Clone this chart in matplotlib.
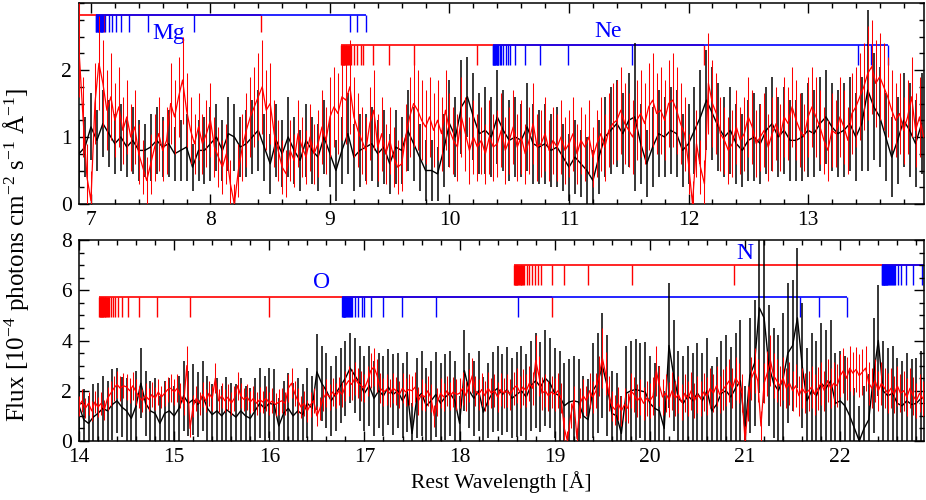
import matplotlib
matplotlib.use("Agg")
import matplotlib.pyplot as plt
import numpy as np
from matplotlib.ticker import MultipleLocator

plt.rcParams["font.family"] = ["Liberation Serif", "DejaVu Serif"]
plt.rcParams["mathtext.fontset"] = "custom"
plt.rcParams["mathtext.rm"] = "Liberation Serif"
plt.rcParams["mathtext.it"] = "Liberation Serif:italic"

#TOP PANEL DATA (7-14 A)
blackTopStart = 6.90
blackTopStep = 0.05
blackTopFlux = [
    0.75, 0.85, 1.15, 0.95, 1.2, 1.05, 0.9, 1.0, 0.85, 0.95,
    0.8, 0.8, 0.85, 0.95, 0.85, 0.9, 0.75, 0.8, 0.85, 0.55,
    0.8, 0.8, 0.9, 1.0, 0.8, 1.05, 1.0, 0.85, 0.9, 1.0,
    1.1, 0.85, 0.6, 0.95, 0.75, 1.0, 0.8, 0.65, 0.95, 0.8,
    0.7, 1.0, 0.75, 0.5, 0.8, 1.05, 0.7, 0.8, 0.85, 0.9,
    0.75, 0.85, 0.6, 0.85, 0.8, 1.1, 0.9, 0.7, 0.5, 0.5,
    0.45, 0.8, 1.2, 1.0, 1.45, 1.6, 1.3, 1.05, 1.1, 1.0,
    1.3, 1.1, 0.95, 1.0, 0.95, 1.15, 0.9, 0.85, 0.9, 0.8,
    0.85, 0.7, 0.55, 0.7, 0.6, 0.5, 0.35, 0.7, 1.0, 1.1,
    1.2, 1.05, 1.25, 1.3, 0.9, 0.6, 0.85, 1.05, 1.0, 1.1,
    1.05, 0.8, 0.9, 1.1, 1.3, 1.55, 1.35, 1.15, 1.0, 1.1,
    0.9, 0.8, 0.95, 1.0, 0.9, 1.1, 1.2, 1.0, 1.1, 0.95,
    0.95, 1.0, 1.1, 1.05, 1.2, 1.3, 1.15, 1.05, 1.1, 1.2,
    1.0, 1.2, 1.7, 1.45, 1.3, 1.0, 0.7, 0.95, 1.25, 1.1,
    0.9, 1.2]
blackTopErr = [
    0.5, 0.45, 0.5, 0.45, 0.5, 0.5, 0.45, 0.5, 0.45, 0.5,
    0.45, 0.4, 0.5, 0.5, 0.45, 0.5, 0.4, 0.45, 0.5, 0.35,
    0.45, 0.5, 0.55, 0.5, 0.45, 0.55, 0.5, 0.45, 0.5, 0.55,
    0.6, 0.5, 0.45, 0.55, 0.5, 0.6, 0.5, 0.45, 0.55, 0.5,
    0.5, 0.55, 0.5, 0.45, 0.5, 0.6, 0.5, 0.55, 0.5, 0.55,
    0.5, 0.55, 0.45, 0.55, 0.5, 0.6, 0.55, 0.5, 0.45, 0.45,
    0.4, 0.55, 0.65, 0.6, 0.7, 0.6, 0.65, 0.6, 0.65, 0.6,
    0.7, 0.6, 0.6, 0.6, 0.55, 0.65, 0.6, 0.55, 0.6, 0.55,
    0.6, 0.5, 0.5, 0.55, 0.5, 0.5, 0.45, 0.55, 0.6, 0.65,
    0.65, 0.6, 0.7, 1.1, 0.6, 0.5, 0.6, 0.65, 0.6, 0.65,
    0.65, 0.55, 0.6, 0.65, 0.7, 0.75, 0.7, 0.65, 0.6, 0.65,
    0.6, 0.55, 0.6, 0.65, 0.6, 0.65, 0.7, 0.6, 0.65, 0.6,
    0.6, 0.65, 0.7, 0.65, 0.7, 0.7, 0.65, 0.65, 0.7, 0.7,
    0.65, 0.7, 1.2, 0.8, 0.75, 0.65, 0.6, 0.65, 0.7, 0.7,
    0.65, 0.75]

redTopStart = 6.90
redTopStep = 1.0 / 30
redTopFlux = [
    2.3, 1.3, 0.4, 0.05, 1.5, 2.1, 1.8, 1.4, 1.6, 1.25, 1.45, 1.1, 1.3, 1.0, 1.15,
    0.75, 0.55, 0.35, 0.6, 0.85, 1.05, 0.8, 0.95, 1.5, 1.3, 1.6, 1.85, 1.4, 1.1, 0.9,
    1.15, 0.9, 1.05, 1.25, 0.85, 0.7, 0.55, 0.75, 0.3, 0.0, 0.5, 0.85, 1.1, 1.3, 1.45,
    1.6, 1.75, 1.4, 1.5, 1.05, 0.8, 0.55, 0.45, 0.8, 0.65, 1.05, 0.85, 0.7, 1.0, 0.75,
    0.9, 1.15, 0.95, 1.3, 1.45, 1.35, 1.6, 1.55, 1.75, 1.3, 1.1, 0.95, 0.8, 1.2, 1.4,
    0.85, 1.05, 0.75, 0.95, 0.7, 0.55, 0.6, 1.0, 1.3, 1.5, 1.4, 1.25, 1.15, 1.3, 1.1,
    1.25, 1.05, 1.4, 1.1, 0.95, 0.85, 1.3, 1.05, 0.8, 1.0, 0.85, 0.95, 0.75, 1.0, 0.85,
    0.9, 1.1, 0.8, 0.95, 1.15, 0.85, 1.0, 0.75, 0.95, 1.2, 0.85, 0.9, 1.05, 0.8, 0.95,
    0.85, 1.0, 0.8, 0.9, 1.05, 0.75, 0.95, 0.85, 1.0, 0.7, 0.9, 1.05, 0.85, 1.1, 1.2,
    1.25, 1.4, 1.2, 1.1, 1.0, 1.25, 1.35, 1.2, 1.45, 1.55, 1.35, 1.4, 1.25, 1.5, 1.55,
    1.4, 1.2, 1.05, 0.6, 0.0, 0.9, 0.55, 0.3, 1.8, 1.5, 1.35, 1.05, 0.95, 0.8, 0.9,
    1.15, 0.95, 1.05, 1.3, 1.15, 0.9, 1.0, 1.1, 0.85, 1.05, 1.2, 1.0, 1.3, 1.2, 1.45,
    1.25, 1.1, 1.0, 1.3, 1.45, 1.3, 1.15, 0.95, 0.8, 1.1, 1.05, 1.3, 1.15, 0.95, 1.35,
    1.45, 1.6, 1.75, 1.95, 2.05, 1.8, 1.9, 1.75, 1.6, 1.4, 1.25, 1.35, 1.1, 1.3, 1.6,
    1.1, 1.3, 1.0]
redTopErr = [
    0.7, 0.6, 0.5, 0.45, 0.6, 0.7, 0.65, 0.6, 0.65, 0.55, 0.6, 0.5, 0.55, 0.5, 0.55,
    0.45, 0.4, 0.35, 0.45, 0.5, 0.55, 0.45, 0.5, 0.6, 0.55, 0.6, 0.65, 0.55, 0.5, 0.45,
    0.5, 0.45, 0.5, 0.55, 0.45, 0.45, 0.4, 0.45, 0.35, 0.3, 0.4, 0.5, 0.55, 0.6, 0.6,
    0.65, 0.7, 0.6, 0.6, 0.5, 0.45, 0.4, 0.35, 0.45, 0.4, 0.5, 0.45, 0.4, 0.5, 0.45,
    0.5, 0.55, 0.5, 0.6, 0.6, 0.6, 0.65, 0.65, 0.7, 0.6, 0.55, 0.5, 0.5, 0.55, 0.6,
    0.5, 0.55, 0.45, 0.5, 0.45, 0.4, 0.4, 0.5, 0.6, 0.65, 0.6, 0.6, 0.55, 0.6, 0.55,
    0.6, 0.55, 0.6, 0.55, 0.5, 0.5, 0.6, 0.55, 0.5, 0.55, 0.5, 0.5, 0.45, 0.55, 0.5,
    0.5, 0.55, 0.5, 0.5, 0.55, 0.5, 0.55, 0.45, 0.5, 0.6, 0.5, 0.5, 0.55, 0.45, 0.5,
    0.5, 0.55, 0.5, 0.5, 0.55, 0.45, 0.5, 0.5, 0.55, 0.45, 0.5, 0.55, 0.5, 0.55, 0.6,
    0.6, 0.65, 0.6, 0.55, 0.55, 0.6, 0.65, 0.6, 0.65, 0.7, 0.6, 0.65, 0.6, 0.65, 0.7,
    0.65, 0.6, 0.55, 0.45, 0.35, 0.5, 0.4, 0.35, 0.75, 0.65, 0.6, 0.55, 0.5, 0.5, 0.5,
    0.55, 0.5, 0.55, 0.6, 0.55, 0.5, 0.5, 0.55, 0.5, 0.55, 0.55, 0.5, 0.6, 0.55, 0.6,
    0.6, 0.55, 0.5, 0.6, 0.6, 0.6, 0.55, 0.5, 0.45, 0.55, 0.5, 0.6, 0.55, 0.5, 0.6,
    0.6, 0.65, 0.65, 0.7, 0.7, 0.65, 0.65, 0.65, 0.6, 0.6, 0.55, 0.6, 0.5, 0.55, 0.6,
    0.55, 0.6, 0.5]

#BOTTOM PANEL DATA (14-23 A)
blackBotStart = 14.0
blackBotStep = 0.05
blackBotFlux = [
    1.4, 0.85, 0.7, 0.95, 1.1, 1.3, 1.2, 1.45, 1.6, 1.35,
    1.2, 0.9, 1.4, 2.3, 1.5, 1.2, 1.1, 0.7, 1.1, 1.2,
    1.0, 1.3, 1.8, 1.5, 1.65, 1.45, 1.8, 1.3, 1.05, 1.2,
    1.0, 1.25, 1.1, 0.95, 1.2, 1.0, 0.9, 1.2, 1.5, 1.3,
    1.5, 1.45, 0.6, 1.1, 1.3, 1.0, 1.2, 1.05, 1.5, 1.3,
    2.75, 2.3, 2.0, 1.6, 1.9, 2.2, 2.5, 2.9, 2.6, 2.3,
    1.9, 2.2, 1.7, 2.0, 1.8, 2.15, 1.85, 2.0, 1.6, 1.95,
    0.3, 1.7, 1.9, 1.4, 1.6, 1.85, 1.5, 1.75, 1.9, 1.6,
    0.7, 2.8, 2.0, 1.7, 2.0, 1.15, 1.6, 1.95, 2.1, 1.85,
    2.05, 1.7, 1.85, 2.0, 1.75, 2.2, 2.4, 2.15, 2.5, 2.3,
    1.9, 1.8, 1.4, 1.55, 1.6, 1.55, 1.0, 0.85, 2.0, 2.3,
    3.0, 2.2, 1.1, 1.0, 0.3, 1.9, 2.0, 2.05, 2.0, 1.95,
    1.5, 1.3, 1.2, 0.5, 3.8, 2.6, 1.7, 1.5, 1.8, 1.6,
    1.9, 1.6, 2.0, 1.2, 1.45, 1.9, 2.0, 1.75, 2.1, 2.4,
    0.4, 2.6, 3.1, 5.3, 4.9, 3.0, 2.3, 2.0, 2.5, 3.5,
    3.8, 4.9, 3.0, 1.6, 2.0, 1.8, 2.3, 2.1, 2.4, 1.5,
    1.6, 1.4, 1.0, 0.5, 0.0, 0.5, 0.85, 2.6, 4.0, 2.0,
    1.8, 1.9, 1.5, 1.4, 1.6, 1.45, 1.5, 1.7]
blackBotErr = [
    1.2, 1.2, 1.1, 1.3, 1.2, 1.3, 1.2, 1.4, 1.3, 1.2,
    1.3, 1.2, 1.4, 1.4, 1.3, 1.2, 1.4, 1.1, 1.3, 1.3,
    1.2, 1.3, 1.4, 1.3, 1.4, 1.3, 1.4, 1.3, 1.2, 1.3,
    1.2, 1.3, 1.2, 1.3, 1.3, 1.2, 1.2, 1.3, 1.4, 1.3,
    1.4, 1.4, 1.1, 1.3, 1.4, 1.3, 1.3, 1.2, 1.4, 1.3,
    1.5, 1.5, 1.5, 1.4, 1.5, 1.5, 1.5, 1.4, 1.5, 1.5,
    1.5, 1.6, 1.5, 1.5, 1.6, 1.5, 1.6, 1.5, 1.5, 1.6,
    1.2, 1.6, 1.7, 1.5, 1.6, 1.7, 1.6, 1.7, 1.7, 1.6,
    1.1, 1.6, 1.5, 1.5, 1.6, 1.4, 1.5, 1.6, 1.7, 1.6,
    1.7, 1.6, 1.7, 1.8, 1.7, 1.8, 1.9, 1.8, 1.9, 1.8,
    1.8, 1.8, 1.7, 1.7, 1.8, 1.7, 1.6, 1.6, 1.9, 2.0,
    2.1, 2.0, 1.7, 1.7, 1.5, 1.9, 2.0, 2.0, 1.9, 2.0,
    1.9, 1.8, 1.8, 1.5, 2.5, 2.2, 1.9, 1.9, 2.0, 1.9,
    2.0, 1.9, 2.1, 1.8, 1.9, 2.1, 2.2, 2.0, 2.2, 2.4,
    1.8, 2.3, 2.5, 3.4, 3.4, 2.4, 2.2, 2.2, 2.6, 2.8,
    2.6, 2.8, 2.5, 2.1, 2.3, 2.2, 2.4, 2.3, 2.4, 2.0,
    2.0, 2.0, 1.9, 1.6, 1.4, 1.7, 1.8, 2.3, 2.2, 2.0,
    1.9, 1.9, 1.8, 1.8, 1.9, 1.8, 1.8, 1.9]

redBotStart = 14.0
redBotStep = 1.0 / 30
redBotFlux = [
    1.4, 1.6, 1.3, 1.5, 1.2, 1.55, 1.35, 1.5, 1.25, 1.7, 1.9, 2.1, 2.25, 2.1, 2.2,
    2.15, 2.0, 2.2, 1.95, 1.75, 1.6, 1.8, 1.65, 1.85, 1.7, 1.95, 1.75, 1.9, 2.05, 2.1,
    1.95, 2.1, 1.8, 1.5, 3.0, 0.5, 1.4, 1.7, 1.5, 1.85, 1.6, 1.9, 1.7, 2.5, 1.6,
    1.8, 1.6, 1.75, 1.5, 1.7, 2.2, 1.8, 1.65, 1.75, 1.55, 1.7, 1.5, 1.65, 1.55, 1.7,
    1.5, 1.6, 1.45, 1.55, 1.6, 1.5, 2.1, 2.3, 1.9, 1.6, 1.35, 1.5, 1.2, 1.45, 1.6,
    1.0, 1.3, 1.7, 1.9, 1.75, 1.95, 1.8, 2.0, 1.85, 2.2, 2.4, 2.25, 2.5, 2.3, 2.2,
    2.1, 2.4, 2.8, 2.95, 2.6, 2.1, 1.95, 2.05, 1.9, 2.1, 2.0, 1.85, 2.1, 1.95, 2.05,
    2.0, 2.15, 1.6, 1.85, 1.75, 2.0, 1.7, 1.0, 1.55, 1.9, 1.75, 2.0, 1.8, 1.95, 1.85,
    1.9, 2.1, 1.8, 2.2, 2.6, 2.0, 1.85, 2.05, 1.8, 2.1, 1.9, 2.0, 1.75, 2.05, 1.9,
    2.0, 1.85, 2.1, 2.2, 1.95, 2.15, 2.0, 2.3, 2.1, 3.2, 2.6, 1.9, 2.0, 1.8, 1.95,
    1.85, 2.0, 1.7, 0.5, 0.0, 1.0, 1.6, 0.1, 1.5, 1.8, 1.6, 2.0, 1.75, 2.0, 2.6,
    3.3, 2.7, 1.9, 1.4, 1.25, 1.5, 1.2, 1.45, 1.3, 2.0, 1.85, 1.6, 1.75, 1.5, 1.7,
    1.6, 1.8, 2.8, 2.2, 1.75, 1.9, 1.65, 2.0, 1.7, 1.85, 1.55, 1.9, 1.7, 2.0, 1.6,
    1.85, 1.7, 1.95, 1.8, 2.1, 1.9, 2.2, 1.85, 2.05, 2.2, 2.4, 2.1, 2.5, 2.3, 1.9,
    0.0, 1.5, 2.5, 2.8, 2.4, 0.6, 2.3, 2.7, 3.2, 2.6, 2.4, 2.2, 2.5, 2.1, 2.3,
    2.0, 2.2, 1.8, 2.1, 1.9, 2.0, 2.15, 1.85, 2.1, 2.3, 2.0, 2.4, 2.1, 2.3, 2.2,
    2.6, 2.8, 2.5, 2.9, 2.7, 2.85, 2.6, 2.75, 2.9, 2.3, 2.1, 2.4, 2.0, 2.3, 2.1,
    1.9, 2.1, 1.85, 2.2, 1.9, 2.0, 1.75, 2.1, 1.8, 1.6, 1.9, 1.7, 1.55]
redBotErr = [
    0.4, 0.45, 0.4, 0.45, 0.4, 0.45, 0.4, 0.45, 0.4, 0.45, 0.5, 0.5, 0.55, 0.5, 0.5,
    0.5, 0.5, 0.55, 0.5, 0.45, 0.45, 0.5, 0.45, 0.5, 0.45, 0.5, 0.45, 0.5, 0.5, 0.55,
    0.5, 0.55, 0.5, 0.45, 0.8, 0.35, 0.45, 0.5, 0.45, 0.5, 0.45, 0.5, 0.5, 0.6, 0.45,
    0.5, 0.45, 0.5, 0.45, 0.5, 0.55, 0.5, 0.45, 0.5, 0.45, 0.5, 0.45, 0.5, 0.45, 0.5,
    0.45, 0.5, 0.45, 0.5, 0.5, 0.45, 0.55, 0.6, 0.5, 0.5, 0.45, 0.5, 0.45, 0.5, 0.5,
    0.4, 0.45, 0.5, 0.55, 0.5, 0.55, 0.5, 0.55, 0.5, 0.6, 0.6, 0.6, 0.65, 0.6, 0.6,
    0.55, 0.6, 0.7, 0.75, 0.65, 0.6, 0.55, 0.6, 0.55, 0.6, 0.55, 0.55, 0.6, 0.55, 0.6,
    0.6, 0.6, 0.55, 0.6, 0.55, 0.6, 0.55, 0.45, 0.55, 0.6, 0.55, 0.6, 0.55, 0.6, 0.6,
    0.6, 0.65, 0.6, 0.65, 0.7, 0.6, 0.6, 0.65, 0.6, 0.65, 0.6, 0.65, 0.6, 0.65, 0.6,
    0.65, 0.6, 0.65, 0.7, 0.65, 0.7, 0.65, 0.7, 0.65, 1.0, 0.8, 0.65, 0.65, 0.6, 0.65,
    0.65, 0.7, 0.6, 0.45, 0.4, 0.5, 0.6, 0.4, 0.6, 0.65, 0.6, 0.7, 0.65, 0.7, 0.8,
    1.2, 0.85, 0.7, 0.6, 0.6, 0.65, 0.6, 0.65, 0.6, 0.7, 0.7, 0.65, 0.7, 0.65, 0.7,
    0.7, 0.75, 1.0, 0.8, 0.7, 0.75, 0.7, 0.75, 0.7, 0.75, 0.7, 0.75, 0.7, 0.75, 0.7,
    0.75, 0.7, 0.75, 0.75, 0.8, 0.75, 0.8, 0.75, 0.8, 0.8, 0.85, 0.8, 0.85, 0.8, 0.75,
    0.6, 0.7, 0.85, 0.9, 0.85, 0.6, 0.8, 0.9, 1.0, 0.9, 0.85, 0.8, 0.85, 0.8, 0.85,
    0.8, 0.85, 0.8, 0.8, 0.8, 0.8, 0.85, 0.8, 0.85, 0.85, 0.8, 0.85, 0.8, 0.85, 0.85,
    0.85, 0.9, 0.85, 0.9, 0.85, 0.9, 0.85, 0.9, 0.9, 0.85, 0.8, 0.85, 0.8, 0.85, 0.8,
    0.8, 0.8, 0.75, 0.8, 0.75, 0.8, 0.75, 0.8, 0.75, 0.7, 0.75, 0.7, 0.7]

#LINE LISTS (rest wavelengths of the series, in A)
mg12Lines = [8.421, 7.106, 6.738, 6.32]
mg11Lines = [9.30, 9.23, 9.17, 7.86, 7.48, 7.32, 7.25, 7.21, 7.18, 7.15, 7.12,
             7.10, 7.095, 7.09, 7.085, 7.08, 7.075, 7.07, 7.065, 7.06, 7.055,
             7.05, 7.045, 7.04]
ne10Lines = [12.13, 10.23, 9.70, 9.49, 9.36, 9.28, 9.26, 9.23, 9.20, 9.18,
             9.16, 9.15, 9.14, 9.135, 9.13, 9.125, 9.12, 9.115, 9.11, 9.105, 9.10, 9.095]
ne9Lines = [13.67, 13.53, 13.42, 11.53, 10.99, 10.76, 10.63, 10.55, 10.51,
            10.49, 10.47, 10.45, 10.43, 10.42, 10.41, 10.405, 10.40, 10.395,
            10.39, 10.385, 10.38, 10.375, 10.37, 10.365, 10.36]
o8Lines = [18.97, 16.00, 15.17, 14.82, 14.63, 14.52, 14.455, 14.41, 14.38,
           14.355, 14.335, 14.32, 14.305, 14.295, 14.285, 14.275, 14.27, 14.26,
           14.255, 14.25, 14.245, 14.24, 14.235, 14.23, 14.225, 14.22, 14.215]
o7Lines = [22.07, 21.78, 21.58, 18.61, 17.75, 17.39, 17.19, 17.07, 17.00,
           16.97, 16.93, 16.90, 16.87, 16.86, 16.85, 16.84, 16.83, 16.82,
           16.81, 16.80, 16.795, 16.79, 16.785, 16.78, 16.775, 16.77, 16.765]
n7Lines = [24.78, 20.88, 19.81, 19.35, 19.10, 18.97, 18.86, 18.82, 18.79,
           18.76, 18.73, 18.71, 18.68, 18.67, 18.66, 18.65, 18.64, 18.63,
           18.62, 18.61, 18.605, 18.60, 18.595, 18.59, 18.585, 18.58, 18.575]
n6Lines = [24.90, 22.86, 22.76, 22.69, 22.64, 22.61, 22.58, 22.56, 22.55,
           22.54, 22.53, 22.52, 22.51, 22.50, 22.495, 22.49, 22.485, 22.48,
           22.475, 22.47, 22.465, 22.46, 22.455, 22.45, 22.445, 22.44, 22.435]

fig = plt.figure(figsize=(9.26, 5.0), dpi=100)
axTop = fig.add_axes([0.0853, 0.592, 0.9125, 0.402])
axBot = fig.add_axes([0.0853, 0.118, 0.9125, 0.402])

def drawSeries(ax, start, step, flux, err, color, lw, elw, z):
    x = start + step * np.arange(len(flux))
    ax.errorbar(x, flux, yerr=err, color=color, lw=lw, elinewidth=elw,
                capsize=0, zorder=z)

def drawLineSet(ax, waves, yLine, yLow, color, z):
    ax.hlines(yLine, min(waves), max(waves), colors=color, lw=1.2, zorder=z)
    ax.vlines(waves, yLow, yLine, colors=color, lw=1.0, zorder=z)

#top panel
drawLineSet(axTop, mg12Lines, 2.82, 2.56, "red", 1)
drawLineSet(axTop, mg11Lines, 2.82, 2.56, "blue", 1.5)
drawLineSet(axTop, ne10Lines, 2.38, 2.08, "red", 1)
drawLineSet(axTop, ne9Lines, 2.38, 2.08, "blue", 1.5)
axTop.text(7.65, 2.55, "Mg", color="blue", fontsize=17, ha="center", va="center")
axTop.text(11.33, 2.58, "Ne", color="blue", fontsize=17, ha="center", va="center")
drawSeries(axTop, blackTopStart, blackTopStep, blackTopFlux, blackTopErr, "black", 1.0, 1.1, 3)
drawSeries(axTop, redTopStart, redTopStep, redTopFlux, redTopErr, "red", 0.9, 0.75, 4)
axTop.set_xlim(6.9, 13.97)
axTop.set_ylim(0, 3.0)
axTop.set_yticks([0, 1, 2])
axTop.yaxis.set_minor_locator(MultipleLocator(0.25))

#bottom panel
drawLineSet(axBot, o8Lines, 5.72, 4.92, "red", 1)
drawLineSet(axBot, o7Lines, 5.72, 4.92, "blue", 1.5)
drawLineSet(axBot, n7Lines, 7.0, 6.2, "red", 1)
drawLineSet(axBot, n6Lines, 7.0, 6.2, "blue", 1.5)
axBot.text(16.55, 6.32, "O", color="blue", fontsize=17, ha="center", va="center")
axBot.text(21.0, 7.48, "N", color="blue", fontsize=17, ha="center", va="center")
drawSeries(axBot, blackBotStart, blackBotStep, blackBotFlux, blackBotErr, "black", 1.0, 1.1, 3)
drawSeries(axBot, redBotStart, redBotStep, redBotFlux, redBotErr, "red", 0.9, 0.75, 4)
axBot.set_xlim(14.0, 22.88)
axBot.set_ylim(0, 8)
axBot.set_yticks([0, 2, 4, 6, 8])
axBot.yaxis.set_minor_locator(MultipleLocator(0.5))
axBot.set_xlabel("Rest Wavelength [Å]", fontsize=15.5, labelpad=3)

for ax in (axTop, axBot):
    ax.xaxis.set_major_locator(MultipleLocator(1))
    ax.xaxis.set_minor_locator(MultipleLocator(0.2))
    ax.tick_params(which="both", direction="in", top=True, right=True,
                   labelsize=15.5, width=1.0, pad=5)
    ax.tick_params(which="major", length=7)
    ax.tick_params(which="minor", length=3.5)
    for s in ax.spines.values():
        s.set_linewidth(1.1)

fig.text(0.017, 0.49, r"Flux [10$^{-4}$ photons cm$^{-2}$ s$^{-1}$ Å$^{-1}$]",
         rotation=90, fontsize=18, ha="center", va="center")

fig.savefig("out.png", dpi=100)
